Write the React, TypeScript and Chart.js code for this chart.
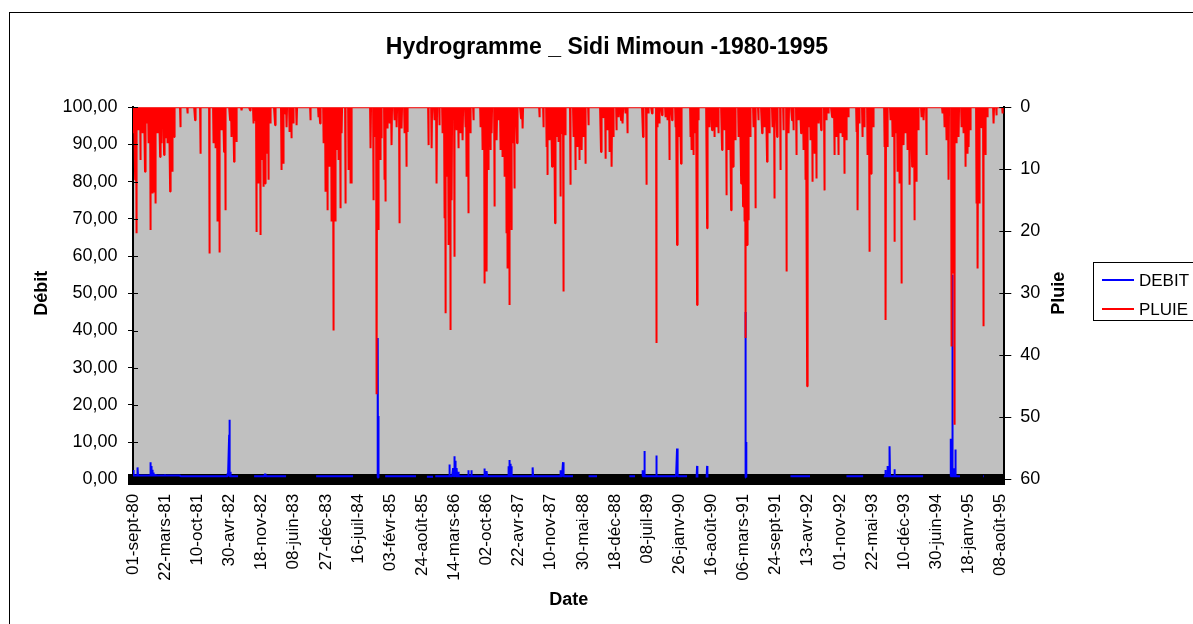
import React, { useEffect, useRef } from "react";
import { Chart, registerables } from "chart.js";

Chart.register(...registerables);

// ---------- DATA ----------
// Daily series from 01-sept-1980 (day 0) to 31-août-1995 (day 5477)
const NB_JOURS = 5478;
const PAS_ETIQUETTES = 202;

const titre = "Hydrogramme _ Sidi Mimoun -1980-1995";

const etiquettesDates = [
  "01-sept-80", "22-mars-81", "10-oct-81", "30-avr-82", "18-nov-82", "08-juin-83",
  "27-déc-83", "16-juil-84", "03-févr-85", "24-août-85", "14-mars-86", "02-oct-86",
  "22-avr-87", "10-nov-87", "30-mai-88", "18-déc-88", "08-juil-89", "26-janv-90",
  "16-août-90", "06-mars-91", "24-sept-91", "13-avr-92", "01-nov-92", "22-mai-93",
  "10-déc-93", "30-juin-94", "18-janv-95", "08-août-95",
];

// Rain events (day index, mm); all other days 0
const pluieJours = [
  2, 13, 23, 34, 48, 61, 75, 86, 96, 111, 122, 132, 143, 153, 170, 180, 195, 206, 216, 233, 247, 258, 296, 342, 390, 426,
  480, 505, 518, 531, 543, 558, 572, 583, 610, 621, 635, 652, 684, 736, 757, 767, 778, 788, 799, 809, 820, 830, 841, 851,
  862, 893, 935, 946, 956, 967, 983, 998, 1009, 1030, 1114, 1166, 1176, 1197, 1208, 1223, 1235, 1250, 1258, 1271, 1281,
  1292, 1302, 1313, 1334, 1355, 1369,
  1375, 1495, 1512, 1522, 1533, 1543, 1554, 1564, 1579, 1589, 1600, 1612, 1627, 1642, 1659, 1673, 1690, 1705, 1717, 1726,
  1858, 1879, 1893, 1910, 1927, 1948, 1956, 1963, 1973, 1984, 1994, 2005, 2019, 2032, 2047, 2057, 2074, 2088, 2099, 2109,
  2120, 2141, 2183, 2200, 2210, 2225, 2235, 2246, 2256, 2271, 2288, 2298, 2313, 2325, 2336, 2346, 2357, 2367, 2378, 2388,
  2397, 2414, 2439, 2451, 2556, 2581, 2598, 2606, 2619, 2634, 2644, 2653, 2665, 2676, 2686, 2697, 2707, 2718, 2749,
  2770, 2780, 2795, 2808, 2822, 2833, 2843, 2864, 2942, 2955, 2971, 2984, 2996, 3011, 3022, 3038, 3053, 3068, 3080, 3095,
  3110, 3206, 3227, 3242, 3263, 3290, 3298, 3311, 3326, 3347, 3361, 3374, 3389, 3410, 3420, 3437, 3445, 3504, 3514, 3525,
  3535, 3546, 3556, 3609, 3626, 3640, 3655, 3667, 3682, 3703, 3718, 3730, 3745, 3760, 3772, 3787, 3808, 3823, 3835, 3844,
  3850, 3860, 3871, 3881, 3902, 3915, 3934, 3955, 3969, 3986, 4003, 4018, 4032, 4049, 4070, 4091, 4108, 4123,
  4143, 4154, 4171, 4185, 4200, 4217, 4227, 4238, 4248, 4259, 4271, 4284, 4297, 4311, 4326, 4347, 4359, 4374, 4395, 4410,
  4422, 4437, 4448, 4462, 4473, 4485, 4500, 4548, 4557, 4569, 4584, 4599, 4620, 4630, 4640, 4653, 4724, 4733, 4745, 4762,
  4775, 4787, 4800, 4808, 4817, 4831, 4846, 4859, 4871, 4884, 4898, 4913, 4926, 4940, 4955, 4972, 4989, 5087, 5102, 5114,
  5129, 5144, 5154, 5165, 5177, 5192, 5207, 5223, 5234, 5244, 5255, 5265, 5303, 5312, 5322, 5332, 5345, 5360, 5374, 5412,
  5429, 5467,
];
const pluieMm = [
  4.2, 11.7, 20.3, 3.7, 8.5, 4.2, 10.4, 2.6, 5.8, 19.8, 13.9, 13.6, 15.5, 4.2, 8.0, 5.8, 7.7, 5.0, 5.8, 13.6, 10.4, 4.8, 3.2, 1.0, 2.1, 7.5,
  23.6, 5.8, 6.6, 18.4, 23.4, 3.7, 7.2, 16.6, 2.1, 4.8, 8.8, 5.6, 0.5, 0.5, 2.6, 2.1, 20.1, 12.3, 20.6, 8.5, 12.8, 12.3, 7.5, 11.7,
  2.6, 2.9, 10.1, 9.1, 1.0, 3.2, 4.0, 5.0, 2.6, 2.9, 2.1, 1.6, 2.6, 5.8, 13.6, 16.6, 9.6, 18.4, 36.0, 18.4, 6.9,
  8.5, 16.3, 4.2, 15.5, 10.1, 12.3,
  12.3, 6.6, 15.0, 4.8, 46.3, 19.8, 8.5, 5.0, 11.7, 15.2, 3.4, 2.6, 6.1, 2.1, 3.2, 18.7, 3.4, 4.2, 9.6, 4.0,
  6.1, 6.6, 2.1, 12.3, 2.9, 4.2, 17.9, 33.2, 11.2, 22.2, 35.9, 15.0, 24.1, 3.7, 6.6, 4.2, 5.3, 3.2, 11.2, 17.1,
  4.2, 2.1, 3.2, 6.9, 28.4, 26.5, 10.1, 6.9, 4.2, 16.0, 5.3, 2.1, 6.9, 8.0, 11.2, 20.3, 26.0, 31.9, 19.8, 5.8,
  13.1, 5.8, 1.8, 3.4, 1.6, 3.2, 6.4, 10.9, 5.3, 9.6, 6.4, 18.7, 4.8, 5.6, 14.4, 4.2, 29.7, 4.5, 12.5,
  4.8, 10.1, 6.4, 8.5, 6.9, 4.8, 9.1, 2.9, 7.2, 1.6, 8.3, 3.7, 7.2, 9.6, 4.8, 3.7, 1.6, 2.1, 2.6, 1.0,
  4.2, 4.8, 12.5, 1.0, 1.0, 38.0, 3.2, 2.6, 1.3, 1.6, 2.1, 8.5, 2.1, 3.2, 22.2, 4.8, 9.1, 4.8, 6.9, 7.7,
  4.2, 31.9, 2.1, 19.5, 3.2, 3.7, 4.8, 3.2, 4.2, 6.9, 3.7, 14.2, 6.9, 16.6, 9.6, 5.3, 4.8, 12.3, 16.0, 18.4,
  37.2, 22.2, 18.2, 4.8, 3.2, 16.3, 2.1, 4.2, 3.2, 8.8, 4.2, 3.2, 14.7, 4.8, 10.1, 3.7, 26.5, 4.2,
  2.1, 3.7, 7.7, 2.1, 4.2, 6.9, 11.7, 45.0, 3.2, 5.3, 12.0, 7.5, 11.5, 2.6, 3.7, 13.4, 2.1, 1.0, 1.6, 7.7,
  4.8, 7.7, 4.2, 4.8, 10.7, 5.3, 1.6, 4.0, 16.6, 2.6, 4.8, 3.2, 7.7, 23.3, 10.7, 3.2, 6.4, 34.3, 6.4, 2.1,
  4.8, 21.7, 4.2, 10.4, 12.3, 28.4, 6.1, 4.2, 6.9, 12.5, 9.6, 18.2, 12.0, 3.7, 1.6, 2.1, 7.7, 1.0, 3.2, 5.3,
  11.7, 38.6, 26.8, 51.2, 5.8, 4.8, 3.2, 4.2, 9.6, 7.5, 6.4, 3.7, 15.5, 26.0, 15.5, 3.2, 35.3, 7.7, 1.6, 2.6,
  1.3, 1.0,
];

// Discharge: periods with recorded base flow (start day, end day, level); blank elsewhere
const debitBaseDebut = [0, 301, 761, 1151, 1536, 1585, 1847, 1900, 2864, 3120, 3202, 3543, 3606, 3848, 4133, 4485, 4720, 5139, 5345];
const debitBaseFin = [300, 660, 967, 1386, 1545, 1784, 1889, 2768, 2918, 3158, 3485, 3549, 3612, 3856, 4259, 4592, 4972, 5202, 5350];
const debitBaseNiveau = [1.0, 0.8, 0.8, 0.8, 0.5, 0.8, 0.7, 0.8, 0.8, 0.8, 0.8, 0.5, 0.5, 0.5, 0.8, 0.8, 0.8, 0.8, 0.8];

// Discharge peaks (day index, value)
const debitPicJours = [
  3, 30, 111, 115, 120, 128, 140, 200, 596, 604, 606, 608, 612, 830, 1539, 1541, 1543, 1990, 2012, 2019, 2024, 2028,
  2036, 2045, 2109, 2128, 2210, 2225, 2361, 2367, 2372, 2378, 2514, 2690, 2703, 3205, 3215, 3290, 3420, 3546, 3609,
  3852, 3854, 4731, 4745, 4758, 4787, 5140, 5150, 5160, 5171,
];
const debitPicValeurs = [
  2.5, 3.2, 4.6, 3.6, 2.6, 1.8, 1.4, 1.3, 1.6, 12, 16, 8, 2, 1.5, 38, 17, 3, 4.0, 3.0, 6.2, 4.5, 5.0,
  3.0, 2.0, 2.4, 2.4, 2.9, 2.2, 3.5, 5.2, 4.2, 3.5, 3.2, 2.4, 4.6, 2.4, 7.6, 6.4, 8.3, 3.6, 3.6,
  45, 10, 2.5, 3.6, 8.9, 2.7, 10.9, 55, 3.0, 8.0,
];

// ---------- SERIES ----------
function construireSeries() {
  const pluie: number[] = new Array(NB_JOURS).fill(0);
  pluieJours.forEach((j, k) => {
    pluie[j] = pluieMm[k];
  });
  const debit: (number | null)[] = new Array(NB_JOURS).fill(null);
  debitBaseDebut.forEach((d, k) => {
    for (let j = d; j <= debitBaseFin[k]; j++) debit[j] = debitBaseNiveau[k];
  });
  debitPicJours.forEach((j, k) => {
    debit[j] = debitPicValeurs[k];
  });
  return {
    pluie: pluie.map((y, x) => ({ x, y })),
    debit: debit.map((y, x) => ({ x, y })),
  };
}

const FONT = "'Liberation Sans', Arial, Helvetica, sans-serif";

const decorPlugin = {
  id: "decor",
  beforeDraw(chart: any) {
    const { ctx, chartArea: a } = chart;
    ctx.save();
    ctx.fillStyle = "#C0C0C0";
    ctx.fillRect(a.left, a.top, a.right - a.left, a.bottom - a.top);
    ctx.restore();
  },
  afterDraw(chart: any) {
    const { ctx, chartArea: a, scales } = chart;
    ctx.save();
    // inner half of crossing tick marks
    ctx.strokeStyle = "#000";
    ctx.lineWidth = 1;
    ctx.beginPath();
    scales.y.ticks.forEach((t: any) => {
      const p = Math.round(scales.y.getPixelForValue(t.value)) + 0.5;
      ctx.moveTo(a.left, p);
      ctx.lineTo(a.left + 5, p);
    });
    scales.y2.ticks.forEach((t: any) => {
      const p = Math.round(scales.y2.getPixelForValue(t.value)) + 0.5;
      ctx.moveTo(a.right - 5, p);
      ctx.lineTo(a.right, p);
    });
    ctx.stroke();

    // right axis title, reading bottom-to-top
    ctx.fillStyle = "#000";
    ctx.font = `bold 18px ${FONT}`;
    ctx.textAlign = "center";
    ctx.textBaseline = "middle";
    ctx.translate(1050, (a.top + a.bottom) / 2);
    ctx.rotate(-Math.PI / 2);
    ctx.fillText("Pluie", 0, 0);
    ctx.setTransform(1, 0, 0, 1, 0, 0);

    // legend
    ctx.strokeStyle = "#000";
    ctx.lineWidth = 1;
    ctx.strokeRect(1084.5, 250.5, 125, 58);
    const items = [
      { t: "DEBIT", c: "#0000FF", y: 268 },
      { t: "PLUIE", c: "#FF0000", y: 297 },
    ];
    ctx.font = `17px ${FONT}`;
    ctx.textAlign = "left";
    items.forEach((it) => {
      ctx.strokeStyle = it.c;
      ctx.lineWidth = 2;
      ctx.beginPath();
      ctx.moveTo(1093, it.y);
      ctx.lineTo(1125, it.y);
      ctx.stroke();
      ctx.fillStyle = "#000";
      ctx.fillText(it.t, 1130, it.y + 1);
    });
    ctx.restore();
  },
};

export default function App() {
  const ref = useRef<HTMLCanvasElement | null>(null);

  useEffect(() => {
    if (!ref.current) return;
    const { pluie, debit } = construireSeries();
    Chart.defaults.font.family = FONT;
    Chart.defaults.color = "#000";
    const chart = new Chart(ref.current, {
      type: "line",
      data: {
        datasets: [
          {
            label: "DEBIT",
            data: debit as any,
            yAxisID: "y",
            borderColor: "#0000FF",
            borderWidth: 2,
            pointRadius: 0,
            tension: 0,
            spanGaps: false,
            borderJoinStyle: "bevel",
            order: 1,
          },
          {
            label: "PLUIE",
            data: pluie as any,
            yAxisID: "y2",
            borderColor: "#FF0000",
            borderWidth: 2,
            pointRadius: 0,
            tension: 0,
            borderJoinStyle: "bevel",
            order: 0,
          },
        ],
      },
      options: {
        animation: false,
        responsive: false,
        devicePixelRatio: 1,
        events: [],
        layout: { padding: 0 },
        plugins: {
          legend: { display: false },
          tooltip: { enabled: false },
          title: {
            display: true,
            text: titre,
            color: "#000",
            font: { size: 23, weight: "bold", family: FONT },
            padding: { top: 21.4, bottom: 46.3 },
          },
        },
        scales: {
          x: {
            type: "linear",
            position: "bottom",
            min: -0.5,
            max: NB_JOURS - 0.5,
            afterBuildTicks: (s: any) => {
              s.ticks = etiquettesDates.map((_, i) => ({ value: i * PAS_ETIQUETTES }));
            },
            afterFit: (s: any) => {
              s.height = 172.7;
            },
            grid: { display: true, drawOnChartArea: false, drawTicks: false, color: "transparent" },
            border: { display: true, color: "#000", width: 11 },
            ticks: {
              autoSkip: false,
              minRotation: 90,
              maxRotation: 90,
              padding: 14.5,
              color: "#000",
              font: { size: 17 },
              callback: (v: any) => etiquettesDates[Math.round(Number(v) / PAS_ETIQUETTES)] ?? "",
            },
            title: {
              display: true,
              text: "Date",
              color: "#000",
              font: { size: 18, weight: "bold" },
              padding: { top: 0, bottom: 41.2 },
            },
          },
          y: {
            type: "linear",
            position: "left",
            min: 0,
            max: 100,
            afterFit: (s: any) => {
              s.width = 124;
            },
            grid: { drawOnChartArea: false, drawTicks: true, tickLength: 5, color: "#000" },
            border: { display: true, color: "#000", width: 2 },
            ticks: {
              stepSize: 10,
              padding: 10.5,
              color: "#000",
              font: { size: 18 },
              callback: (v: any) => Number(v).toFixed(2).replace(".", ","),
            },
            title: {
              display: true,
              text: "Débit",
              color: "#000",
              font: { size: 18, weight: "bold" },
              padding: { top: 22.2, bottom: 0 },
            },
          },
          y2: {
            type: "linear",
            position: "right",
            reverse: true,
            min: 0,
            max: 60,
            afterFit: (s: any) => {
              s.width = 1196 - 995.3;
            },
            grid: { drawOnChartArea: false, drawTicks: true, tickLength: 7, color: "#000" },
            border: { display: true, color: "#000", width: 2 },
            ticks: {
              stepSize: 10,
              padding: 9,
              color: "#000",
              font: { size: 18 },
            },
          },
        },
      } as any,
      plugins: [decorPlugin],
    });
    return () => chart.destroy();
  }, []);

  return (
    <div
      style={{
        position: "fixed",
        left: 0,
        top: 0,
        width: 1193,
        height: 624,
        overflow: "hidden",
        background: "#fff",
      }}
    >
      <div
        style={{
          position: "absolute",
          left: 9,
          top: 12,
          width: 1196,
          height: 640,
          borderLeft: "1px solid #000",
          borderTop: "1px solid #000",
          boxSizing: "border-box",
        }}
      />
      <canvas
        ref={ref}
        width={1196}
        height={640}
        style={{ position: "absolute", left: 9, top: 12, width: 1196, height: 640, display: "block" }}
      />
    </div>
  );
}
